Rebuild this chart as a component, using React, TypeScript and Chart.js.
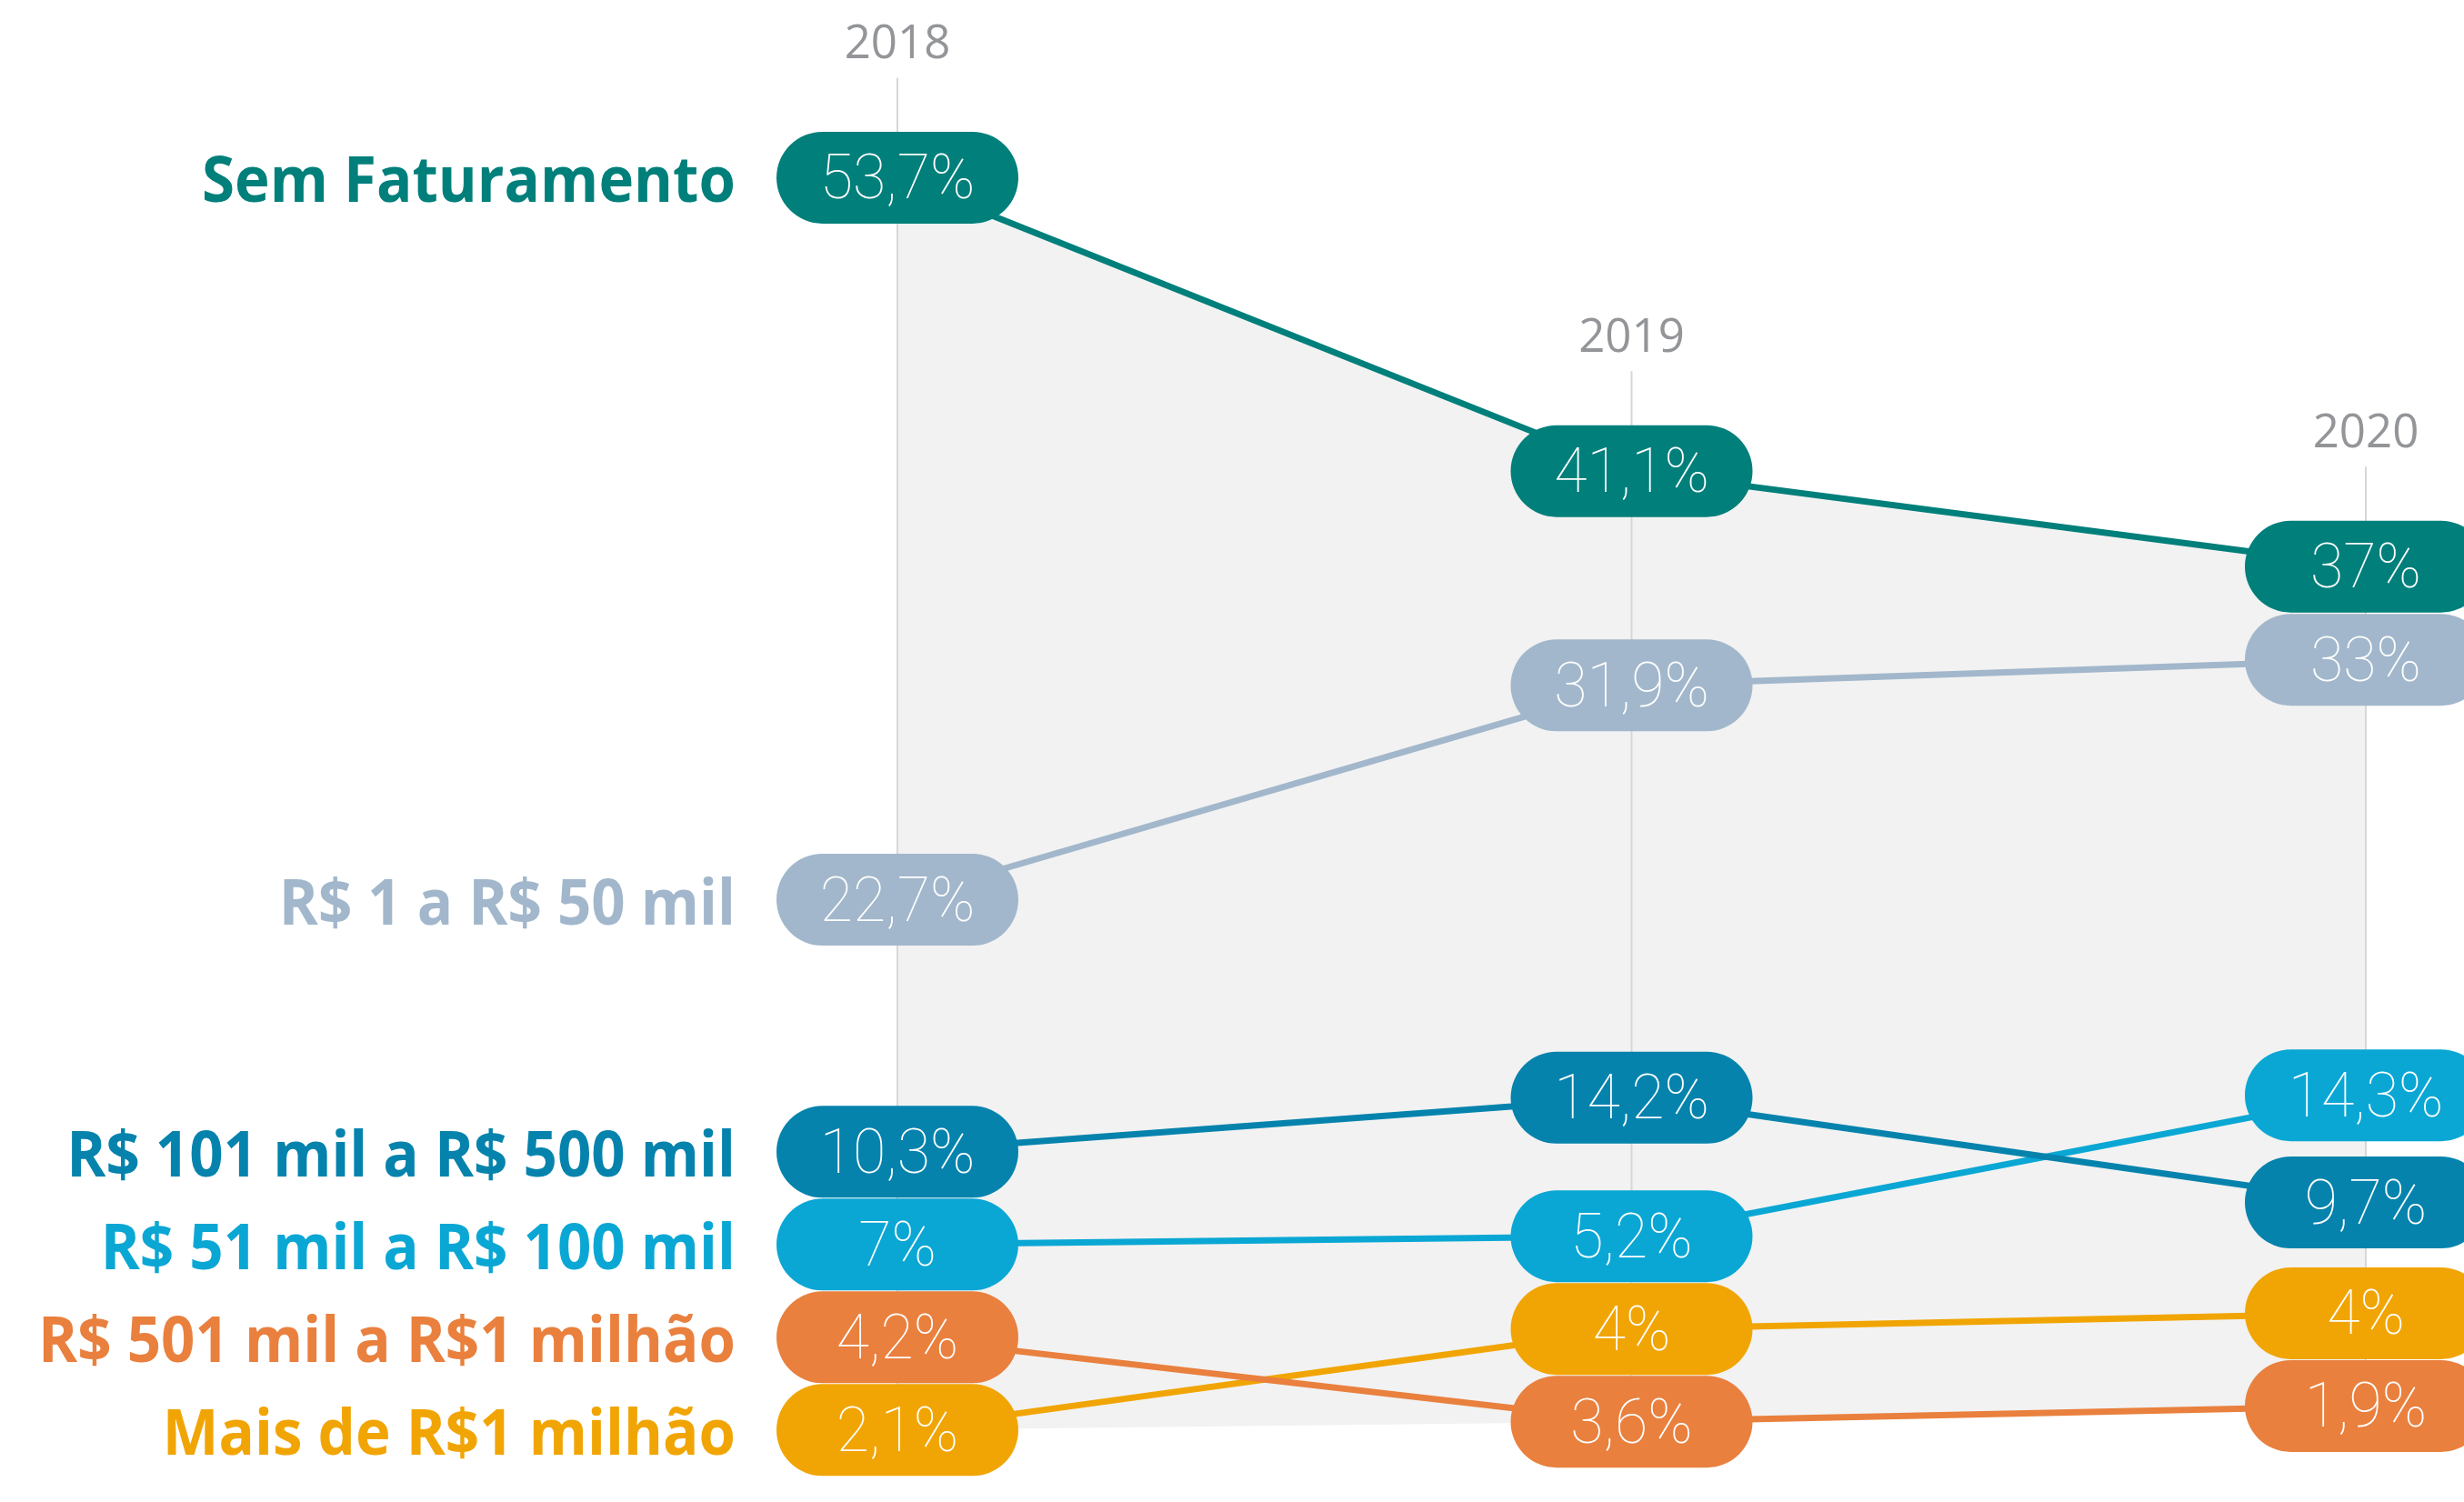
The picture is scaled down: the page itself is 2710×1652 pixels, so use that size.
import React, { useEffect, useRef } from 'react';
import { Chart, registerables } from 'chart.js';

Chart.register(...registerables);

// ---- data ----
const years = ['2018', '2019', '2020'];
const categories = [
  'Sem Faturamento',
  'R$ 1 a R$ 50 mil',
  'R$ 101 mil a R$ 500 mil',
  'R$ 51 mil a R$ 100 mil',
  'R$ 501 mil a R$1 milhão',
  'Mais de R$1 milhão',
];
const semFaturamento = [53.7, 41.1, 37];
const de1a50mil = [22.7, 31.9, 33];
const de101a500mil = [10.3, 14.2, 9.7];
const de51a100mil = [7, 5.2, 14.3];
const de501milA1milhao = [4.2, 3.6, 1.9];
const maisDe1milhao = [2.1, 4, 4];
const seriesValues = [semFaturamento, de1a50mil, de101a500mil, de51a100mil, de501milA1milhao, maisDe1milhao];

// ---- styles ----
const seriesColors = ['#007f7b', '#a2b7cb', '#0583ad', '#0aa7d4', '#e9803e', '#f1a504'];
const W = 2710;
const H = 1652;
const PILL_W = 266;
const PILL_H = 101;
const PILL_GAP = 102;
const PCT_FONT = '100 69px Roboto';
const PCT_SCALE_X = 0.96;
const CAT_FONT = '700 70px "Open Sans"';
const CAT_SCALE_X = 0.935;
const YEAR_FONT = '400 51px "Open Sans"';

function fmt(v: number): string {
  return String(v).replace('.', ',') + '%';
}

function pillPath(ctx: CanvasRenderingContext2D, cx: number, cy: number) {
  const r = PILL_H / 2;
  const x0 = cx - PILL_W / 2 + r;
  const x1 = cx + PILL_W / 2 - r;
  ctx.beginPath();
  ctx.moveTo(x0, cy - r);
  ctx.lineTo(x1, cy - r);
  ctx.arc(x1, cy, r, -Math.PI / 2, Math.PI / 2);
  ctx.lineTo(x0, cy + r);
  ctx.arc(x0, cy, r, Math.PI / 2, Math.PI * 1.5);
  ctx.closePath();
}

// spreads overlapping labels in each column (mean-preserving clusters)
const pillLayout = {
  id: 'pillLayout',
  afterDatasetsUpdate(chart: any) {
    const n = chart.data.labels.length;
    for (let j = 0; j < n; j++) {
      const items = chart.data.datasets
        .map((_: any, i: number) => {
          const el = chart.getDatasetMeta(i).data[j];
          return { el, ideal: el.y };
        })
        .sort((a: any, b: any) => a.ideal - b.ideal);
      let clusters = items.map((it: any) => ({ items: [it], top: it.ideal }));
      let merged = true;
      while (merged) {
        merged = false;
        for (let k = 0; k < clusters.length - 1; k++) {
          const a = clusters[k];
          const b = clusters[k + 1];
          const aBottom = a.top + (a.items.length - 1) * PILL_GAP;
          if (b.top - aBottom < PILL_GAP) {
            const its = a.items.concat(b.items);
            const mean = its.reduce((s: number, it: any) => s + it.ideal, 0) / its.length;
            clusters.splice(k, 2, { items: its, top: mean - ((its.length - 1) * PILL_GAP) / 2 });
            merged = true;
            break;
          }
        }
      }
      clusters.forEach((c: any) =>
        c.items.forEach((it: any, k: number) => {
          it.el.y = c.top + k * PILL_GAP;
        })
      );
    }
  },
  beforeDatasetsDraw(chart: any) {
    const ctx: CanvasRenderingContext2D = chart.ctx;
    const n = chart.data.labels.length;
    const cols: { x: number; top: number; bottom: number }[] = [];
    for (let j = 0; j < n; j++) {
      let top = Infinity;
      let bottom = -Infinity;
      let x = 0;
      chart.data.datasets.forEach((_: any, i: number) => {
        const el = chart.getDatasetMeta(i).data[j];
        x = el.x;
        top = Math.min(top, el.y);
        bottom = Math.max(bottom, el.y);
      });
      cols.push({ x, top, bottom });
    }
    ctx.save();
    ctx.fillStyle = '#f2f2f2';
    ctx.beginPath();
    cols.forEach((c, j) => (j ? ctx.lineTo(c.x, c.top) : ctx.moveTo(c.x, c.top)));
    for (let j = n - 1; j >= 0; j--) ctx.lineTo(cols[j].x, cols[j].bottom);
    ctx.closePath();
    ctx.fill();
    ctx.strokeStyle = '#d7d7d7';
    ctx.lineWidth = 2;
    cols.forEach((c) => {
      ctx.beginPath();
      ctx.moveTo(c.x, c.top - 110);
      ctx.lineTo(c.x, c.bottom);
      ctx.stroke();
    });
    ctx.fillStyle = '#939598';
    ctx.font = YEAR_FONT;
    ctx.textAlign = 'center';
    ctx.textBaseline = 'alphabetic';
    cols.forEach((c, j) => ctx.fillText(chart.data.labels[j], c.x, c.top - 131));
    ctx.restore();
  },
  afterDatasetsDraw(chart: any) {
    const ctx: CanvasRenderingContext2D = chart.ctx;
    ctx.save();
    chart.data.datasets.forEach((ds: any, i: number) => {
      const meta = chart.getDatasetMeta(i);
      meta.data.forEach((el: any, j: number) => {
        pillPath(ctx, el.x, el.y);
        ctx.fillStyle = ds.borderColor;
        ctx.fill();
        ctx.save();
        ctx.translate(el.x, el.y + 23);
        ctx.scale(PCT_SCALE_X, 1);
        ctx.fillStyle = '#ffffff';
        ctx.font = PCT_FONT;
        ctx.textAlign = 'center';
        ctx.textBaseline = 'alphabetic';
        ctx.fillText(fmt(ds.data[j]), 0, 0);
        ctx.restore();
      });
      const el0 = meta.data[0];
      ctx.save();
      ctx.translate(el0.x - PILL_W / 2 - 45, el0.y + 27);
      ctx.scale(CAT_SCALE_X, 1);
      ctx.fillStyle = ds.borderColor;
      ctx.font = CAT_FONT;
      ctx.textAlign = 'right';
      ctx.textBaseline = 'alphabetic';
      ctx.fillText(ds.label, 0, 0);
      ctx.restore();
    });
    ctx.restore();
  },
};

export default function App() {
  const canvasRef = useRef<HTMLCanvasElement | null>(null);

  useEffect(() => {
    document.body.style.margin = '0';
    const canvas = canvasRef.current;
    if (!canvas) return;
    const chart = new Chart(canvas, {
      type: 'line',
      data: {
        labels: years,
        datasets: seriesValues.map((vals, i) => ({
          label: categories[i],
          data: vals,
          borderColor: seriesColors[i],
          backgroundColor: seriesColors[i],
          borderWidth: 7,
          pointRadius: 0,
          pointHoverRadius: 0,
          tension: 0,
          fill: false,
          clip: false as any,
        })),
      },
      options: {
        responsive: false,
        animation: false,
        devicePixelRatio: 1,
        events: [],
        layout: { padding: { left: 987, right: 108, top: 34, bottom: 81 } },
        scales: {
          x: { type: 'category', display: false, offset: false },
          y: { type: 'linear', display: false, min: 0, max: 60 },
        },
        plugins: { legend: { display: false }, tooltip: { enabled: false } },
      },
      plugins: [pillLayout],
    });
    return () => chart.destroy();
  }, []);

  return (
    <div style={{ width: W, height: H, position: 'relative', background: '#ffffff' }}>
      <canvas ref={canvasRef} width={W} height={H} style={{ display: 'block', width: W, height: H }} />
    </div>
  );
}
